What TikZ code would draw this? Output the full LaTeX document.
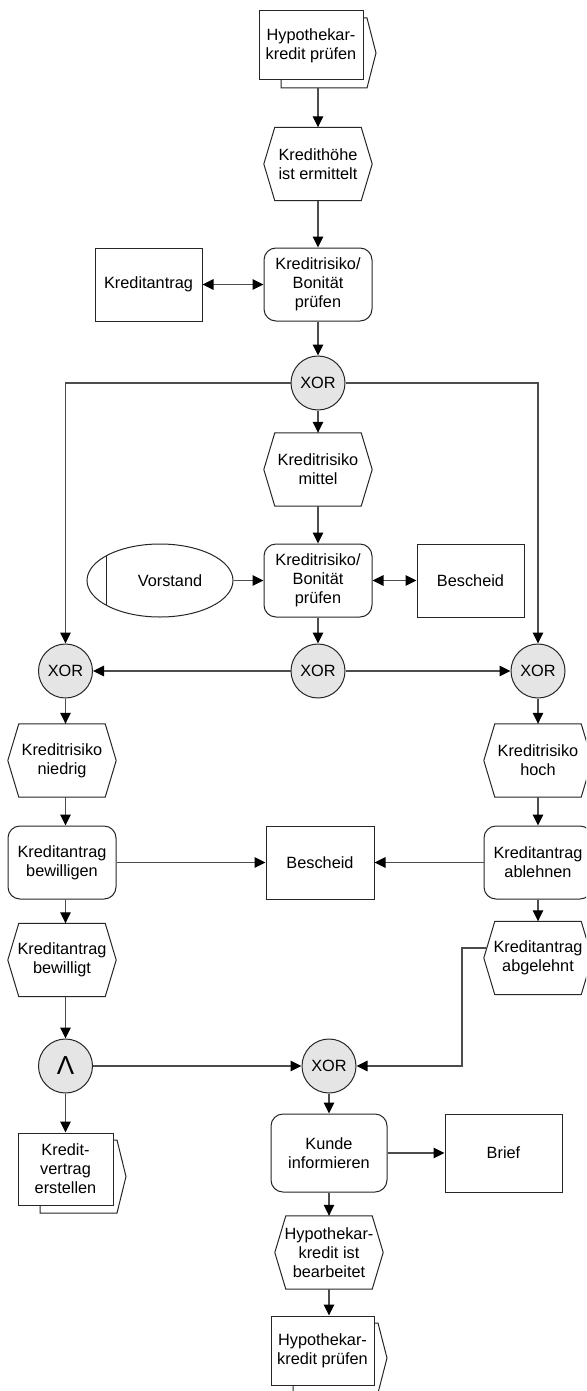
\documentclass[tikz,border=0pt]{standalone}
\usepackage{fontspec}
\setmainfont{Liberation Sans}
\usetikzlibrary{arrows.meta,shapes.geometric,calc}

\tikzset{
  base/.style={font=\fontsize{16.3}{19}\selectfont, align=center, inner sep=2pt},
  func/.style={base, draw=black!85, line width=1pt, fill=white, rounded corners=12pt, minimum width=108pt, minimum height=73pt},
  obj/.style={base, draw=black!85, line width=1pt, fill=white, minimum width=108pt, minimum height=73pt},
  evt/.style={base, minimum width=108pt, minimum height=73pt},
  gate/.style={base, circle, draw=black!85, line width=1pt, fill=black!10, minimum size=54pt, inner sep=0pt},
  proc/.style={base, draw=black!85, line width=1pt, fill=white, minimum width=104pt, minimum height=69pt},
  orgunit/.style={base, ellipse, draw=black!85, line width=1pt, fill=white, minimum width=146pt, minimum height=73pt, inner sep=0pt},
  frame/.style={draw=black!85, line width=1pt, fill=white},
  hexframe/.style={draw=black!85, line width=1pt},
  conn/.style={draw=black!70, line width=1.1pt, -{Triangle[length=11pt,width=10.5pt,color=black]}},
  dconn/.style={draw=black!70, line width=1.1pt, {Triangle[length=11pt,width=10.5pt,color=black]}-{Triangle[length=11pt,width=10.5pt,color=black]}},
}
\newcommand\hexev[1]{\draw[hexframe] (#1.west) -- ([xshift=11pt]#1.north west) -- ([xshift=-11pt]#1.north east) -- (#1.east) -- ([xshift=-11pt]#1.south east) -- ([xshift=11pt]#1.south west) -- cycle;}
\newcommand\procback[4]{\path[frame,shift={(#1,#2)}] ({-#3/2+22},{-#4/2+7}) -- ({#3/2+4},{-#4/2+7}) -- ({#3/2+13},7.5) -- ({#3/2+4},{#4/2+8}) -- ({-#3/2+22},{#4/2+8}) -- cycle;}

\begin{document}
\begin{tikzpicture}[x=1pt,y=-1pt]
\fill[white] (0,0) rectangle (586,1391);
\clip (0,0) rectangle (586,1391);

% processes
\procback{311}{45.5}{104}{69}
\node[proc] (p1) at (311,45.5) {Hypothekar-\\kredit prüfen};
\coordinate (p1b) at (318,88);

\procback{65.5}{1169}{95}{72}
\node[proc, minimum width=95pt, minimum height=72pt] (p2) at (65.5,1169) {Kredit-\\vertrag\\erstellen};

\procback{322.5}{1350.5}{103}{69}
\node[proc, minimum width=103pt] (p3) at (322.5,1350.5) {Hypothekar-\\kredit prüfen};

% events
\node[evt] (e1) at (318,164) {Kredithöhe\\ist ermittelt}; \hexev{e1}
\node[evt] (e2) at (318,469.5) {Kreditrisiko\\mittel}; \hexev{e2}
\node[evt] (e3) at (62,760.5) {Kreditrisiko\\niedrig}; \hexev{e3}
\node[evt] (e4) at (538,760.5) {Kreditrisiko\\hoch}; \hexev{e4}
\node[evt] (e5) at (62,960) {Kreditantrag\\bewilligt}; \hexev{e5}
\node[evt] (e6) at (538,958) {Kreditantrag\\abgelehnt}; \hexev{e6}
\node[evt] (e7) at (329,1252.5) {Hypothekar-\\kredit ist\\bearbeitet}; \hexev{e7}

% functions
\node[func] (f1) at (318,284.5) {Kreditrisiko/\\Bonität\\prüfen};
\node[func] (f2) at (318,580.5) {Kreditrisiko/\\Bonität\\prüfen};
\node[func] (f3) at (62,862.5) {Kreditantrag\\bewilligen};
\node[func] (f4) at (538,862.5) {Kreditantrag\\ablehnen};
\node[func, minimum width=116pt, minimum height=78pt] (f5) at (329,1153) {Kunde\\informieren};

% objects
\node[obj, minimum width=107pt] (o1) at (148.5,284.5) {Kreditantrag};
\node[obj, minimum width=107pt] (o2) at (470.5,580.5) {Bescheid};
\node[obj] (o3) at (320,862.5) {Bescheid};
\node[obj, minimum width=117pt, minimum height=78pt] (o4) at (503.5,1153) {Brief};

% org unit
\node[orgunit] (v) at (160,580.5) {\hspace*{20pt}Vorstand};
\draw[hexframe] ([xshift=-54pt,yshift=24.6pt]v.center) -- ([xshift=-54pt,yshift=-24.6pt]v.center);

% gates
\node[gate] (g1) at (318,383) {XOR};
\node[gate] (g2) at (318,671) {XOR};
\node[gate] (gL) at (65.5,671) {XOR};
\node[gate] (gR) at (538,671) {XOR};
\node[gate] (gA) at (65.5,1066) {\fontsize{26}{26}\selectfont Λ};
\node[gate] (g3) at (329,1066) {XOR};

% connectors
\draw[conn] (p1b) -- (e1.north);
\draw[conn] (e1) -- (f1);
\draw[dconn] (o1) -- (f1);
\draw[conn] (f1) -- (g1);
\draw[conn] (g1) -- (e2);
\draw[conn] (e2) -- (f2);
\draw[conn] (v) -- (f2);
\draw[dconn] (f2) -- (o2);
\draw[conn] (f2) -- (g2);
\draw[conn] (g1.west) -| (gL.north);
\draw[conn] (g1.east) -| (gR.north);
\draw[conn] (g2) -- (gL);
\draw[conn] (g2) -- (gR);
\draw[conn] (gL.south) -- (gL.south |- e3.north);
\draw[conn] (e3.south -| gL) -- (f3.north -| gL);
\draw[conn] (f3.south -| gL) -- (e5.north -| gL);
\draw[conn] (e5.south -| gA) -- (gA.north);
\draw[conn] (gA) -- (p2);
\draw[conn] (f3) -- (o3);
\draw[conn] (gR) -- (e4);
\draw[conn] (e4) -- (f4);
\draw[conn] (f4) -- (e6);
\draw[conn] (f4) -- (o3);
\coordinate (bend) at (462,1066);
\draw[conn] ([xshift=3pt,yshift=10pt]e6.west) -| (bend) -- (g3.east);
\draw[conn] (gA) -- (g3);
\draw[conn] (g3) -- (f5);
\draw[conn] (f5) -- (e7);
\draw[conn] (e7) -- (p3.north -| e7);
\draw[conn] (f5) -- (o4);
\end{tikzpicture}
\end{document}
